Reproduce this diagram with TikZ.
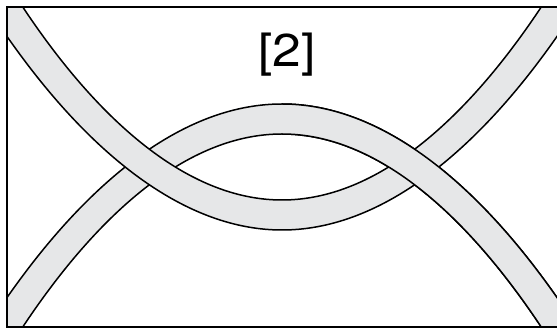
\documentclass[tikz,border=0pt]{standalone}
\usepackage{fontspec}
\setmainfont{TeX Gyre Heros}
\usepackage{xcolor}
\usepackage{tikz}

\definecolor{bandgray}{RGB}{230,231,232}

\begin{document}
\begin{tikzpicture}[x=1pt, y=1pt,
        band/.style={draw, fill=bandgray, line width=1.5pt},
        frame/.style={draw, line width=2pt},
        tagtext/.style={font=\fontsize{46}{46}\selectfont, xscale=1.12, inner sep=0pt}]

        \useasboundingbox (0,0) rectangle (557,329);

        % Frame corners
        \coordinate (sw) at (7,2);
        \coordinate (ne) at (558.5,322);

        % Bands
        \begin{scope}
            \clip (sw) rectangle (ne);
            % arch band
            \path [band] (0,-33.8) parabola bend (282,195) (564,-33.8)
                -- (564,21.4) parabola bend (282,225) (0,21.4) -- cycle;
            % cup band
            \path [band] (0,357.8) parabola bend (282,129) (564,357.8)
                -- (564,302.6) parabola bend (282,99) (0,302.6) -- cycle;
        \end{scope}

        % Arch band over the cup band on the right crossing
        \begin{scope}
            \clip (282,2) rectangle (ne);
            \path [band] (0,-33.8) parabola bend (282,195) (564,-33.8)
                -- (564,21.4) parabola bend (282,225) (0,21.4) -- cycle;
        \end{scope}

        \path [frame] (sw) rectangle (ne);

        % Label
        \node [tagtext, anchor=base] (tag) at (287,262.3) {[2]};

    \end{tikzpicture}
\end{document}
